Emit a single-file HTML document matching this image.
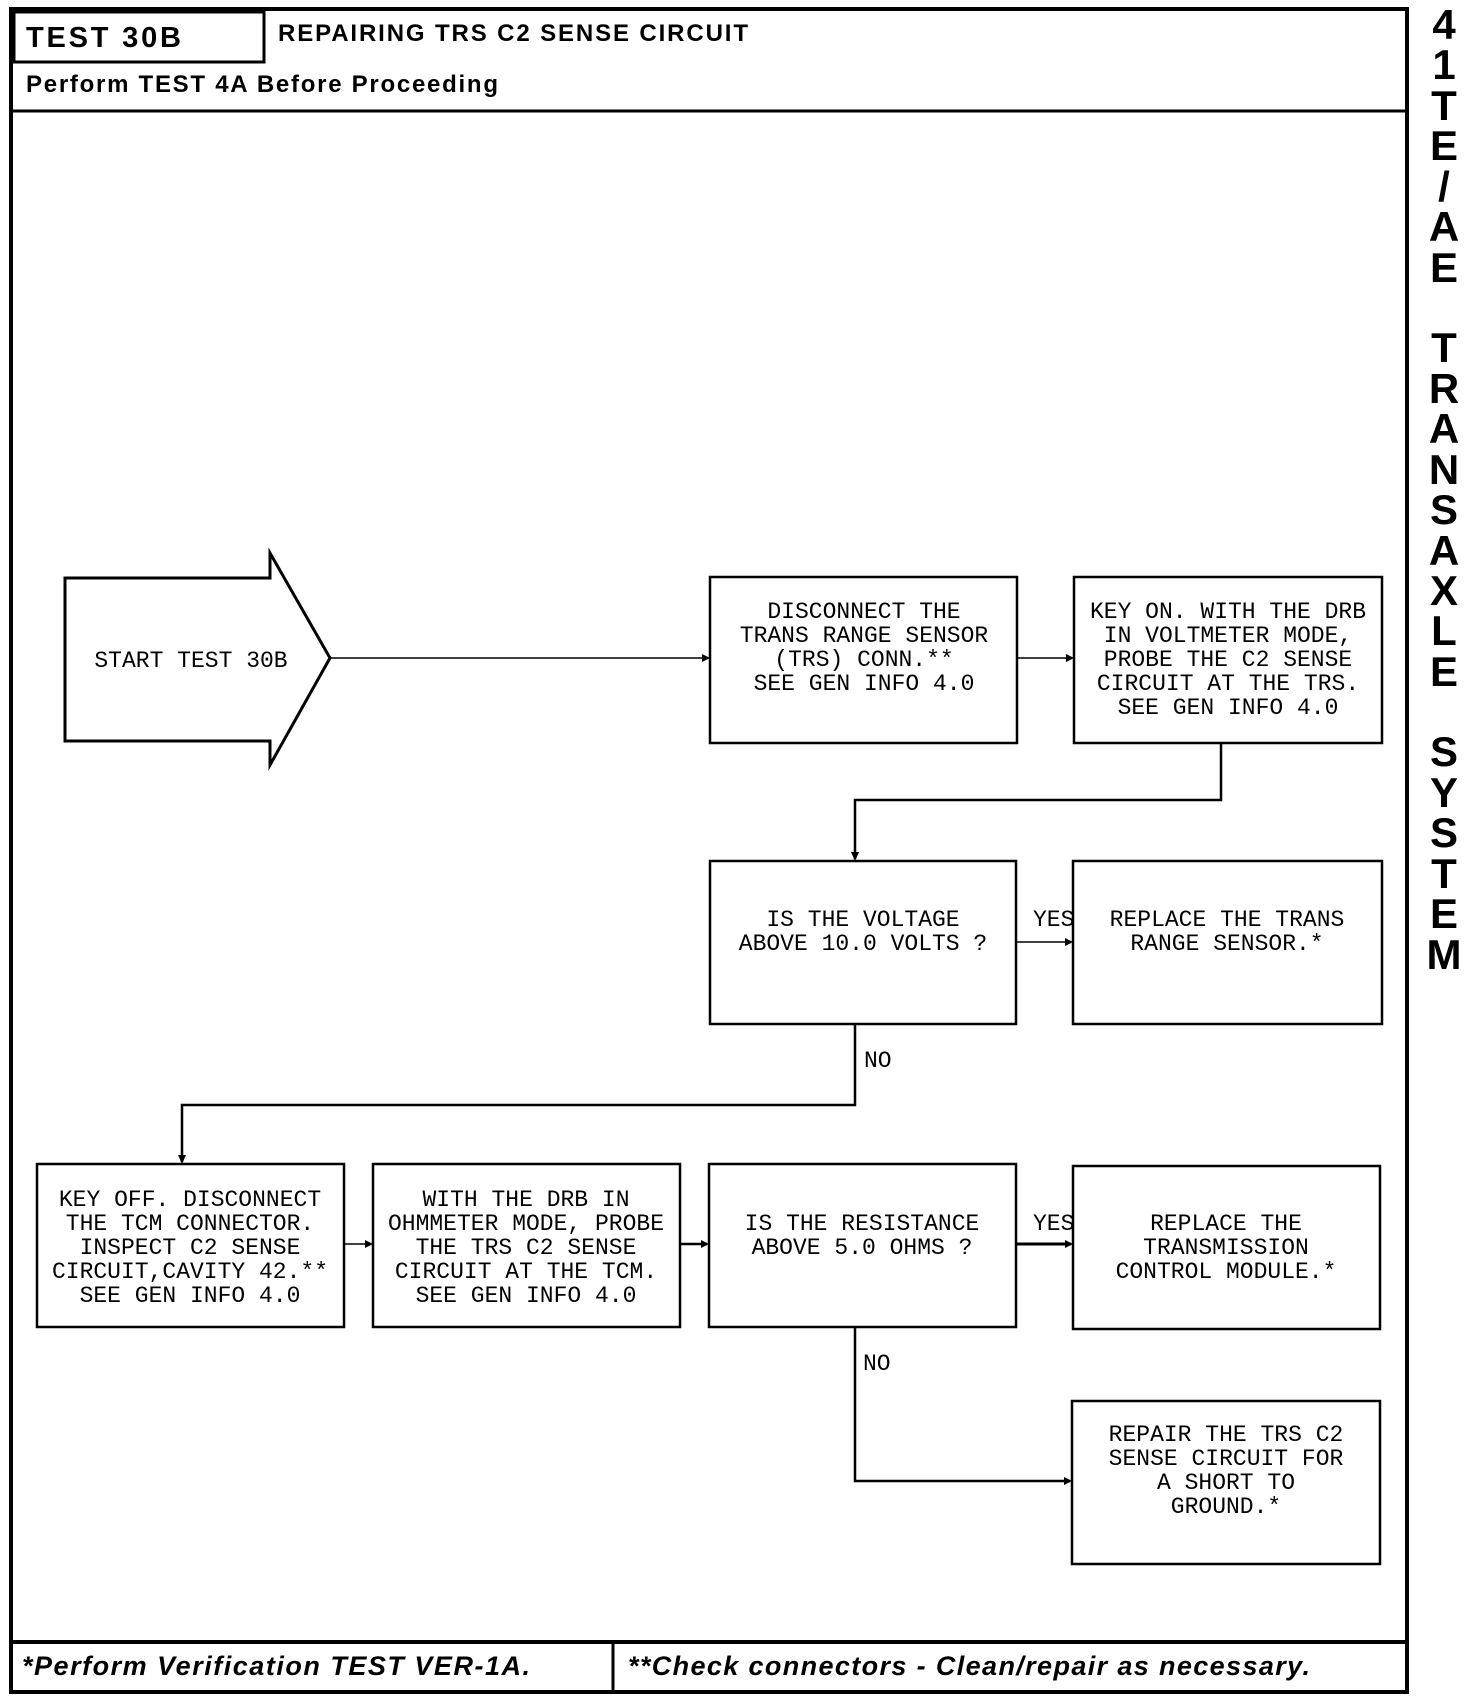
<!DOCTYPE html>
<html><head><meta charset="utf-8"><style>
html,body{margin:0;padding:0;background:#fff;}
svg{display:block;}
.b{font-family:"Liberation Mono",monospace;font-size:23px;fill:#000;}
.h{font-family:"Liberation Sans",sans-serif;font-weight:bold;fill:#000;}
</style></head><body>
<svg width="1472" height="1700" viewBox="0 0 1472 1700" xmlns="http://www.w3.org/2000/svg">
<g fill="none" stroke="#000">
<rect x="11" y="9" width="1396" height="1683" stroke-width="4"/>
<rect x="14" y="12" width="250" height="50" stroke-width="3"/>
<line x1="11" y1="111" x2="1407" y2="111" stroke-width="3"/>
<line x1="11" y1="1642" x2="1407" y2="1642" stroke-width="4"/>
<line x1="613" y1="1642" x2="613" y2="1692" stroke-width="3"/>
<polygon points="65,578 270,578 270,553 330,658 270,765 270,741 65,741" stroke-width="3"/>
<g stroke-width="2.5">
<rect x="710" y="577" width="307" height="166"/>
<rect x="1074" y="577" width="308" height="166"/>
<rect x="710" y="861" width="306" height="163"/>
<rect x="1073" y="861" width="309" height="163"/>
<rect x="37" y="1164" width="307" height="163"/>
<rect x="373" y="1164" width="307" height="163"/>
<rect x="709" y="1164" width="307" height="163"/>
<rect x="1073" y="1166" width="307" height="163"/>
<rect x="1072" y="1401" width="308" height="163"/>
</g>
<g stroke-width="1.5">
<line x1="330" y1="658" x2="708" y2="658"/>
<line x1="1017" y1="658" x2="1072" y2="658"/>
<polyline points="1221,743 1221,800 855,800 855,859" stroke-width="2.5"/>
<line x1="1016" y1="942" x2="1071" y2="942"/>
<polyline points="855,1024 855,1105 182,1105 182,1162" stroke-width="2.5"/>
<line x1="344" y1="1244" x2="371" y2="1244"/>
<line x1="680" y1="1244" x2="707" y2="1244" stroke-width="2.5"/>
<line x1="1016" y1="1244" x2="1071" y2="1244" stroke-width="3"/>
<polyline points="855,1327 855,1481 1070,1481" stroke-width="2.5"/>
</g>
</g>
<g fill="#000">
<polygon points="710,658 702,654 702,662"/>
<polygon points="1074,658 1066,654 1066,662"/>
<polygon points="855,861 851,852 859,852"/>
<polygon points="1073,942 1065,938 1065,946"/>
<polygon points="182,1164 178,1155 186,1155"/>
<polygon points="373,1244 365,1240 365,1248"/>
<polygon points="709,1244 701,1240 701,1248"/>
<polygon points="1073,1244 1065,1240 1065,1248"/>
<polygon points="1072,1481 1064,1477 1064,1485"/>
</g>
<text class="h" x="26" y="47" font-size="29" textLength="155">TEST 30B</text>
<text class="h" x="278" y="41" font-size="24" textLength="470">REPAIRING TRS C2 SENSE CIRCUIT</text>
<text class="h" x="26" y="92" font-size="24" textLength="472">Perform TEST 4A Before Proceeding</text>
<text class="h" x="22" y="1675" font-size="27" font-style="italic" textLength="508">*Perform Verification TEST VER-1A.</text>
<text class="h" x="628" y="1675" font-size="27" font-style="italic" textLength="682">**Check connectors - Clean/repair as necessary.</text>
<g class="h" font-size="42" text-anchor="middle">
<text x="1444" y="39">4</text><text x="1444" y="79">1</text><text x="1444" y="120">T</text><text x="1444" y="160">E</text><text x="1444" y="201">/</text><text x="1444" y="241">A</text><text x="1444" y="282">E</text>
<text x="1444" y="362">T</text><text x="1444" y="403">R</text><text x="1444" y="443">A</text><text x="1444" y="484">N</text><text x="1444" y="524">S</text><text x="1444" y="565">A</text><text x="1444" y="605">X</text><text x="1444" y="645">L</text><text x="1444" y="686">E</text>
<text x="1444" y="766">S</text><text x="1444" y="807">Y</text><text x="1444" y="847">S</text><text x="1444" y="888">T</text><text x="1444" y="928">E</text><text x="1444" y="969">M</text>
</g>
<g class="b" text-anchor="middle">
<text x="191" y="667">START TEST 30B</text>
<text x="864" y="618">DISCONNECT THE</text><text x="864" y="642">TRANS RANGE SENSOR</text><text x="864" y="666">(TRS) CONN.**</text><text x="864" y="690">SEE GEN INFO 4.0</text>
<text x="1228" y="618">KEY ON. WITH THE DRB</text><text x="1228" y="642">IN VOLTMETER MODE,</text><text x="1228" y="666">PROBE THE C2 SENSE</text><text x="1228" y="690">CIRCUIT AT THE TRS.</text><text x="1228" y="714">SEE GEN INFO 4.0</text>
<text x="863" y="926">IS THE VOLTAGE</text><text x="863" y="950">ABOVE 10.0 VOLTS ?</text>
<text x="1227" y="926">REPLACE THE TRANS</text><text x="1227" y="950">RANGE SENSOR.*</text>
<text x="190" y="1206">KEY OFF. DISCONNECT</text><text x="190" y="1230">THE TCM CONNECTOR.</text><text x="190" y="1254">INSPECT C2 SENSE</text><text x="190" y="1278">CIRCUIT,CAVITY 42.**</text><text x="190" y="1302">SEE GEN INFO 4.0</text>
<text x="526" y="1206">WITH THE DRB IN</text><text x="526" y="1230">OHMMETER MODE, PROBE</text><text x="526" y="1254">THE TRS C2 SENSE</text><text x="526" y="1278">CIRCUIT AT THE TCM.</text><text x="526" y="1302">SEE GEN INFO 4.0</text>
<text x="862" y="1230">IS THE RESISTANCE</text><text x="862" y="1254">ABOVE 5.0 OHMS ?</text>
<text x="1226" y="1230">REPLACE THE</text><text x="1226" y="1254">TRANSMISSION</text><text x="1226" y="1278">CONTROL MODULE.*</text>
<text x="1226" y="1441">REPAIR THE TRS C2</text><text x="1226" y="1465">SENSE CIRCUIT FOR</text><text x="1226" y="1489">A SHORT TO</text><text x="1226" y="1513">GROUND.*</text>
</g>
<g class="b" font-size="21">
<text x="1033" y="926">YES</text>
<text x="1033" y="1230">YES</text>
<text x="864" y="1067">NO</text>
<text x="863" y="1370">NO</text>
</g>
</svg>
</body></html>
